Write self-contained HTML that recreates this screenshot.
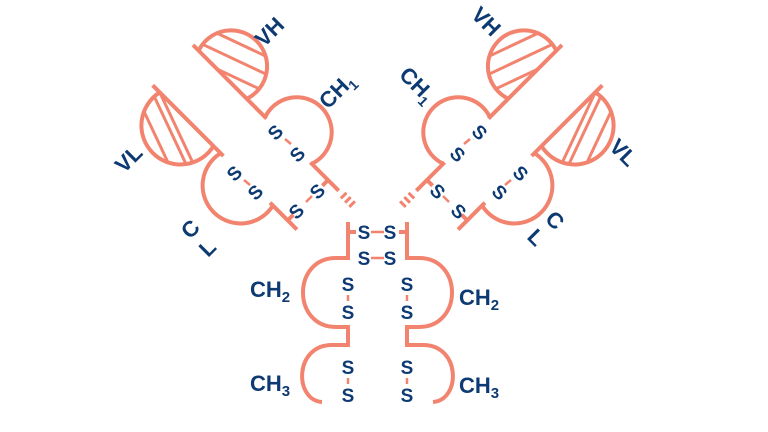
<!DOCTYPE html>
<html><head><meta charset="utf-8"><style>
html,body{margin:0;padding:0;background:#fff;}
svg{display:block}
text{font-family:"Liberation Sans",sans-serif;font-weight:bold;fill:#0d3a72;}
</style></head><body>
<svg width="768" height="432" viewBox="0 0 768 432" xmlns="http://www.w3.org/2000/svg">
<defs>
<clipPath id="vhc"><path d="M8 0 A36 36 0 1 1 76 0 Z"/></clipPath>
<clipPath id="vlc"><path d="M10 57 A39 39 0 1 0 86 57 Z"/></clipPath>
<g id="half" fill="none" stroke="#f2846f" stroke-width="4" stroke-linecap="butt">
  <g transform="translate(193,45) rotate(45)">
    <line x1="0" y1="0" x2="104" y2="0"/>
    <line x1="166" y1="0" x2="206" y2="0"/>
    <path d="M8 0 A36 36 0 1 1 76 0"/>
    <g clip-path="url(#vhc)" stroke-width="3">
      <line x1="0" y1="-5" x2="100" y2="-41"/>
      <line x1="20" y1="5" x2="120" y2="-31"/>
      <line x1="-20" y1="-15" x2="80" y2="-51"/>
      <line x1="-30" y1="-35" x2="70" y2="-71"/>
    </g>
    <path d="M102 0 A35 35 0 1 1 168 0"/>
    <line x1="0" y1="57" x2="100" y2="57"/>
    <line x1="166" y1="57" x2="204" y2="57"/>
    <path d="M10 57 A39 39 0 1 0 86 57"/>
    <g clip-path="url(#vlc)" stroke-width="3">
      <line x1="-10" y1="57" x2="90" y2="93"/>
      <line x1="10" y1="57" x2="110" y2="93"/>
      <line x1="-20" y1="70" x2="80" y2="106"/>
      <line x1="-30" y1="85" x2="70" y2="121"/>
    </g>
    <path d="M96 57 A38 38 0 1 0 170 57"/>
    <line x1="191" y1="0" x2="191" y2="8"/>
    <line x1="191" y1="49" x2="191" y2="57"/>
    <line x1="213" y1="-4" x2="213" y2="4" stroke-width="3"/>
    <line x1="219" y1="-4" x2="219" y2="4" stroke-width="3"/>
    <line x1="225" y1="-4" x2="225" y2="4" stroke-width="3"/>
  </g>
  <line x1="348" y1="222" x2="348" y2="260"/>
  <line x1="348" y1="232" x2="356" y2="232"/>
  <path d="M348 258 L336 258 C292 258 292 327 336 327 L348 327"/>
  <line x1="348" y1="325" x2="348" y2="347"/>
  <path d="M348 345 L332 345 C294 345 294 400 322 402"/>
  <line x1="348" y1="295" x2="348" y2="301" stroke-width="2.5"/>
  <line x1="348" y1="378" x2="348" y2="384" stroke-width="2.5"/>
  <line x1="371" y1="232" x2="378" y2="232" stroke-width="2.5"/>
  <line x1="371" y1="258" x2="378" y2="258" stroke-width="2.5"/>
</g>
</defs>
<use href="#half"/>
<use href="#half" transform="translate(755,0) scale(-1,1)"/>
<g stroke="#f2846f" stroke-width="2.5">
  <line x1="285" y1="139" x2="291" y2="144"/>
  <line x1="244" y1="180" x2="250" y2="185"/>
  <line x1="306" y1="202" x2="312" y2="196"/>
  <line x1="470" y1="139" x2="464" y2="144"/>
  <line x1="511" y1="180" x2="505" y2="185"/>
  <line x1="449" y1="202" x2="443" y2="196"/>
</g>
<g font-size="19" text-anchor="middle">
  <text x="364" y="239">S</text><text x="390" y="239">S</text>
  <text x="364" y="265">S</text><text x="390" y="265">S</text>
  <text x="348" y="291">S</text><text x="348" y="319">S</text>
  <text x="407" y="291">S</text><text x="407" y="319">S</text>
  <text x="348" y="374">S</text><text x="348" y="402">S</text>
  <text x="407" y="374">S</text><text x="407" y="402">S</text>
  <text transform="translate(280,137) rotate(-45)">S</text>
  <text transform="translate(302,159) rotate(-45)">S</text>
  <text transform="translate(239,178) rotate(-45)">S</text>
  <text transform="translate(260,197) rotate(-45)">S</text>
  <text transform="translate(301,216) rotate(-45)">S</text>
  <text transform="translate(322,196) rotate(-45)">S</text>
  <text transform="translate(475,137) rotate(45)">S</text>
  <text transform="translate(453,159) rotate(45)">S</text>
  <text transform="translate(516,178) rotate(45)">S</text>
  <text transform="translate(495,197) rotate(45)">S</text>
  <text transform="translate(454,216) rotate(45)">S</text>
  <text transform="translate(433,196) rotate(45)">S</text>
</g>
<g font-size="22">
  <text transform="translate(264,48) rotate(-45)">VH</text>
  <text transform="translate(328,110) rotate(-45)">CH<tspan font-size="14" dy="5">1</tspan></text>
  <text transform="translate(124,174) rotate(-45)">VL</text>
  <text transform="translate(190,240) rotate(-45)">C</text>
  <text transform="translate(208,258) rotate(-45)">L</text>
  <text transform="translate(470,16) rotate(45)">VH</text>
  <text transform="translate(398,76) rotate(45)">CH<tspan font-size="14" dy="5">1</tspan></text>
  <text transform="translate(608,148) rotate(45)">VL</text>
  <text transform="translate(544,220) rotate(45)">C</text>
  <text transform="translate(526,238) rotate(45)">L</text>
  <text x="250" y="297">CH<tspan font-size="15" dy="5">2</tspan></text>
  <text x="250" y="391">CH<tspan font-size="15" dy="5">3</tspan></text>
  <text x="459" y="305">CH<tspan font-size="15" dy="5">2</tspan></text>
  <text x="459" y="393">CH<tspan font-size="15" dy="5">3</tspan></text>
</g>
</svg>
</body></html>
